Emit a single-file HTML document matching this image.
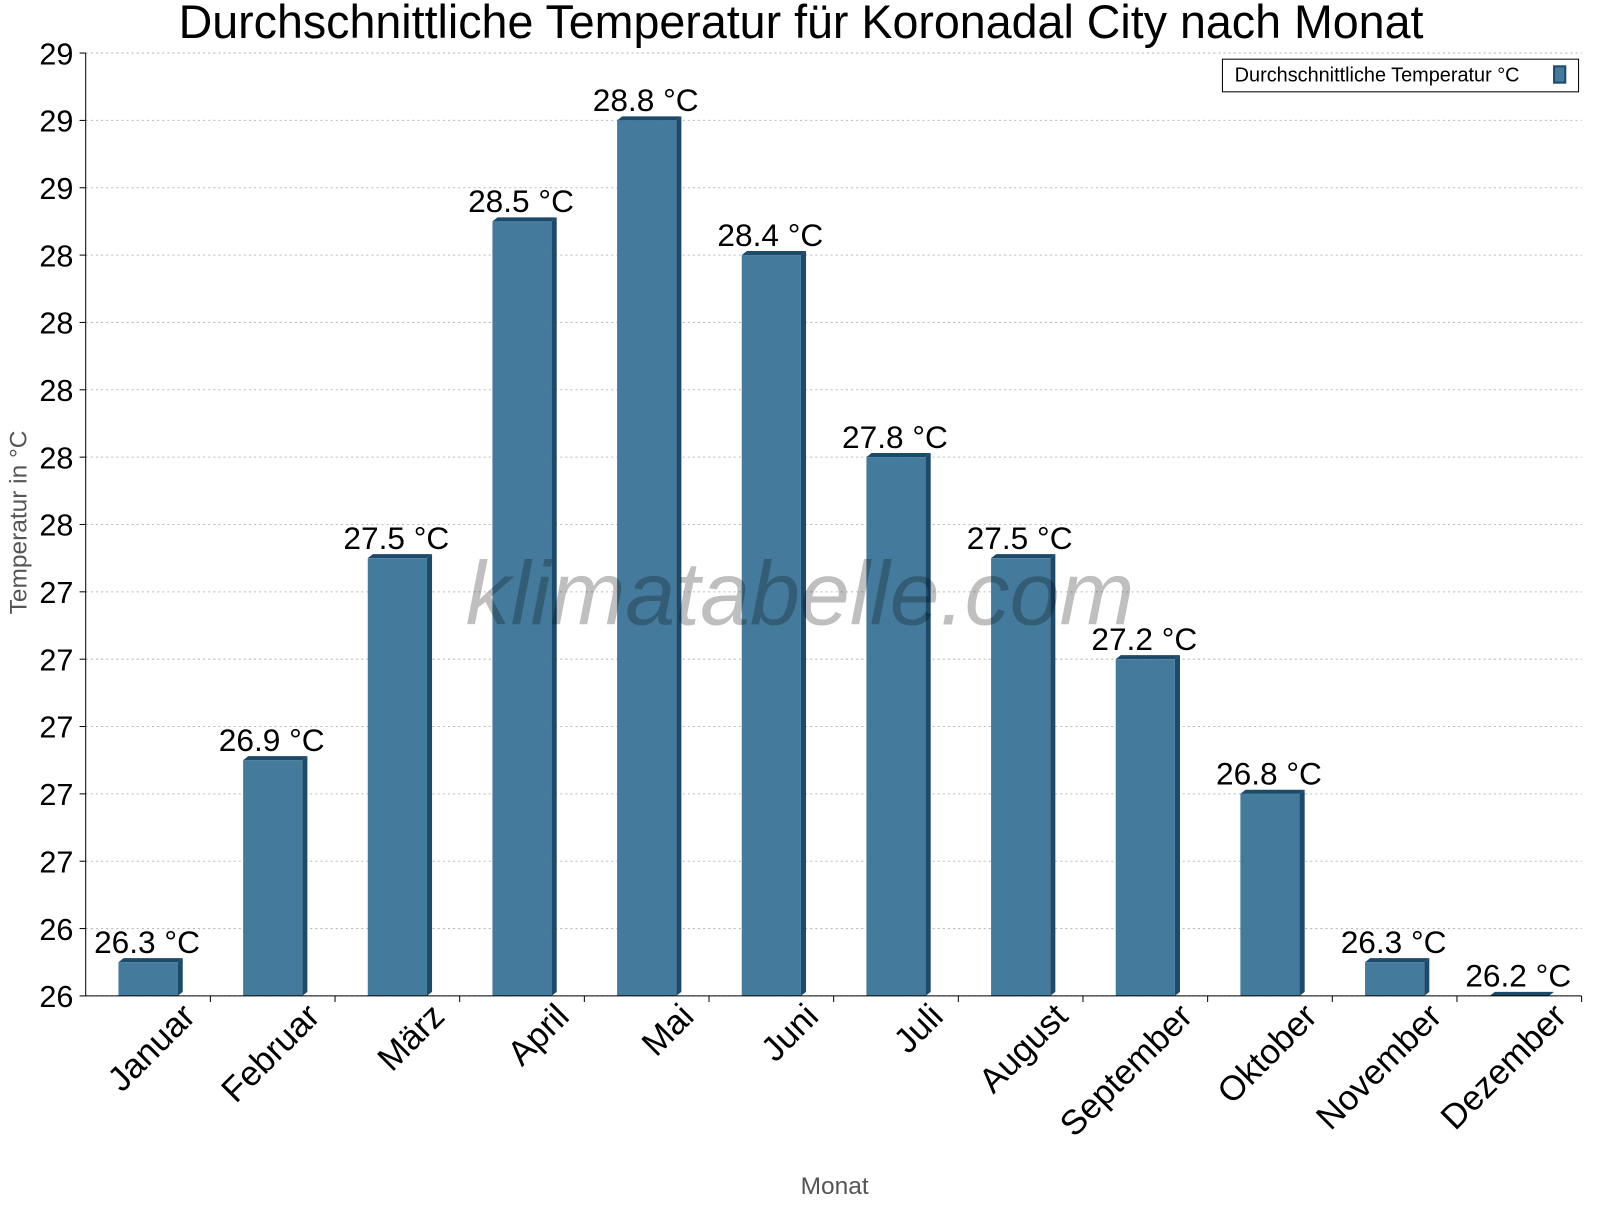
<!DOCTYPE html>
<html><head><meta charset="utf-8"><style>
body{margin:0;background:#fff;width:1600px;height:1200px;overflow:hidden}
svg text{font-family:"Liberation Sans",sans-serif}
</style></head><body>
<svg id="c" width="1600" height="1200">
<g transform="scale(1.0204)">
<text x="785" y="37" font-size="46" textLength="1220" lengthAdjust="spacingAndGlyphs" text-anchor="middle">Durchschnittliche Temperatur für Koronadal City nach Monat</text>
<g id="grid"></g>
<g id="bars"></g>
<text x="784" y="612" font-size="88" font-style="italic" fill="#000" fill-opacity="0.25" text-anchor="middle">klimatabelle.com</text>
<g id="labels"></g>
<g id="axes"></g>
<text transform="translate(26,512) rotate(-90)" font-size="24" fill="#555" text-anchor="middle">Temperatur in °C</text>
<text x="818" y="1170" font-size="24" fill="#555" text-anchor="middle">Monat</text>
<g>
<rect x="1198" y="58" width="349" height="32" fill="#fff" stroke="#000" stroke-width="1"/>
<text x="1210" y="80" font-size="19.5">Durchschnittliche Temperatur °C</text>
<rect x="1523" y="65" width="11" height="16" fill="#447b9d" stroke="#1b4a6b" stroke-width="2"/>
</g>
</g>
</svg>
<script>
const months=["Januar","Februar","März","April","Mai","Juni","Juli","August","September","Oktober","November","Dezember"];
const temps=[26.3,26.9,27.5,28.5,28.8,28.4,27.8,27.5,27.2,26.8,26.3,26.2];
const yTicks=[26.2,26.4,26.6,26.8,27.0,27.2,27.4,27.6,27.8,28.0,28.2,28.4,28.6,28.8,29.0];
const yMin=26.2,yMax=29.0,plotTop=52,plotBottom=976,plotLeft=84,plotRight=1550;
const ns="http://www.w3.org/2000/svg";
function yPos(v){return plotBottom-(v-yMin)/(yMax-yMin)*(plotBottom-plotTop);}
const band=(plotRight-plotLeft)/months.length;
function xPos(i){return plotLeft+band*(i+0.5);}
function mk(t,a,p){const e=document.createElementNS(ns,t);for(const k in a)e.setAttribute(k,a[k]);p.appendChild(e);return e;}
const grid=document.getElementById('grid'),axes=document.getElementById('axes'),bars=document.getElementById('bars'),labels=document.getElementById('labels');
yTicks.forEach(v=>{
 const l=mk('line',{x1:plotLeft,x2:plotRight,y1:yPos(v),y2:yPos(v),stroke:'#bbb','stroke-dasharray':'2,3'},grid);
 
 
 mk('line',{x1:plotLeft-6,x2:plotLeft,y1:yPos(v),y2:yPos(v),stroke:'#000'},axes);
 const t=mk('text',{x:plotLeft-12,y:yPos(v)+11,'font-size':30,'text-anchor':'end'},axes);
 t.textContent=Math.round(v);
 
 
});
mk('line',{x1:plotLeft,x2:plotLeft,y1:plotTop,y2:plotBottom,stroke:'#000'},axes);
mk('line',{x1:plotLeft,x2:plotRight,y1:plotBottom,y2:plotBottom,stroke:'#000'},axes);
months.forEach((m,i)=>{
 mk('line',{x1:plotLeft+band*(i+1),x2:plotLeft+band*(i+1),y1:plotBottom,y2:plotBottom+6,stroke:'#000'},axes);
 const cx=xPos(i),w=58,d=5,yt=yPos(temps[i]);
 const g=mk('g',{},bars);
 
 
 mk('polygon',{points:`${cx-w/2},${yt} ${cx-w/2+d},${yt-4} ${cx+w/2+d},${yt-4} ${cx+w/2},${yt}`,fill:'#1b4a6b'},g);
 mk('polygon',{points:`${cx+w/2},${yt} ${cx+w/2+d},${yt-4} ${cx+w/2+d},${plotBottom-4} ${cx+w/2},${plotBottom}`,fill:'#1b4a6b'},g);
 mk('rect',{x:cx-w/2,y:yt,width:w,height:plotBottom-yt,fill:'#447b9d'},g);
 const vl=mk('text',{x:cx-1,y:yt-9,'font-size':31,'text-anchor':'middle'},labels);
 vl.textContent=temps[i].toFixed(1)+' °C';
 
 
 const tl=mk('text',{transform:`translate(${cx+48},${plotBottom+22}) rotate(-45)`,'font-size':34,'text-anchor':'end'},axes);
 tl.textContent=m;
 
 
});
</script>
</body></html>
